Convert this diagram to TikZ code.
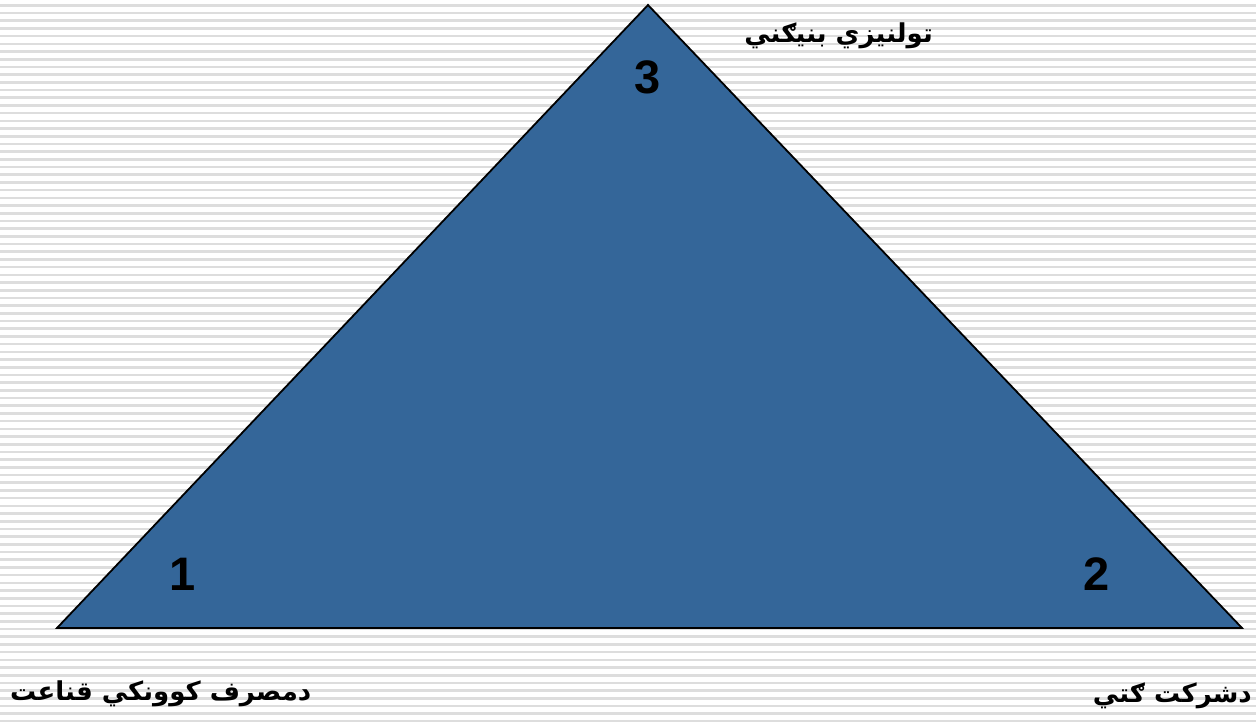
\documentclass[tikz,border=0pt]{standalone}
\usepackage{fontspec}
\setmainfont{Liberation Sans}
\newfontfamily\arabicfont[Script=Arabic]{DejaVu Sans}
\TeXXeTstate=1
\definecolor{stripegray}{RGB}{221,221,221}
\definecolor{triblue}{RGB}{52,102,153}
\tikzset{
  stripe/.style={fill=stripegray, draw=none},
  tri/.style={fill=triblue, draw=black, line width=1.8pt, line join=miter},
  num/.style={font=\fontsize{47}{50}\selectfont\bfseries, inner sep=0pt},
  lbl/.style={font=\arabicfont\bfseries\fontsize{26}{30}\selectfont, inner sep=0pt}
}
\begin{document}
\begin{tikzpicture}[x=1pt,y=-1pt]
\useasboundingbox (0,0) rectangle (1256,721);
\fill[white] (0,0) rectangle (1256,721);
\foreach \i in {0,...,93} {
  \fill[stripe] (0,{4.0+7.7*\i}) rectangle (1256,{6.6+7.7*\i});
}
\coordinate (A) at (57,628);
\coordinate (B) at (1242,628);
\coordinate (C) at (648,5);
\draw[tri] (A) -- (B) -- (C) -- cycle;
\node[num] (n3) at (648,77) {3};
\node[num] (n1) at (183,574) {1};
\node[num] (n2) at (1097,574) {2};
\node[lbl, anchor=east] (l3) at (933,36) {\beginR تولنيزي بنيګني\endR};
\node[lbl, anchor=west] (l1) at (10,694) {\beginR دمصرف کوونکي قناعت\endR};
\node[lbl, anchor=east] (l2) at (1252,696) {\beginR دشرکت ګتي\endR};
\end{tikzpicture}
\end{document}
